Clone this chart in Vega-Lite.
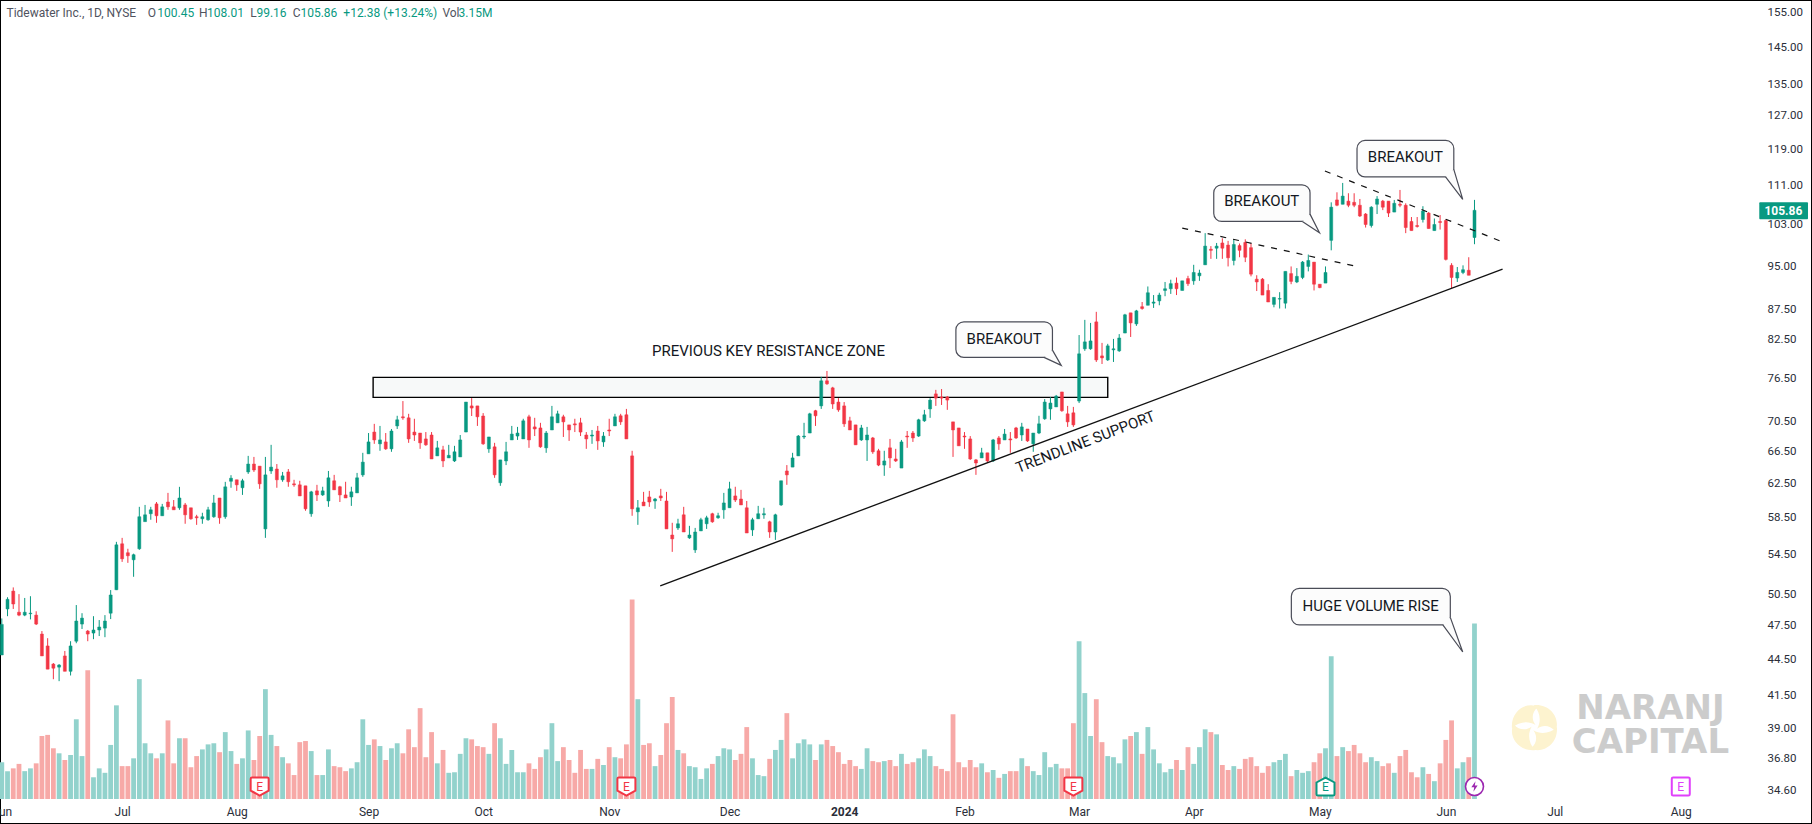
{"$schema":"https://vega.github.io/schema/vega-lite/v6.json","width":1812,"height":824,"padding":0,"autosize":{"type":"none"},"background":"#ffffff","config":{"view":{"stroke":"#000000","strokeWidth":2},"text":{"font":"Roboto"}},
"datasets":{"bars":[
{"bar":0,"open":44.92,"high":48.19,"low":44.9,"close":47.64,"volume":0.66},
{"bar":1,"open":49.08,"high":50.2,"low":48.4,"close":50.0,"volume":0.5},
{"bar":2,"open":50.8,"high":51.16,"low":49.08,"close":49.55,"volume":0.55},
{"bar":3,"open":48.77,"high":50.5,"low":48.4,"close":48.5,"volume":0.63},
{"bar":4,"open":48.5,"high":50.13,"low":48.4,"close":48.77,"volume":0.5},
{"bar":5,"open":48.63,"high":50.3,"low":48.1,"close":48.68,"volume":0.55},
{"bar":6,"open":48.5,"high":48.86,"low":47.58,"close":47.67,"volume":0.64},
{"bar":7,"open":46.76,"high":47.03,"low":44.83,"close":44.83,"volume":1.13},
{"bar":8,"open":45.7,"high":46.39,"low":43.7,"close":43.7,"volume":1.15},
{"bar":9,"open":44.13,"high":44.22,"low":42.86,"close":43.78,"volume":0.91},
{"bar":10,"open":43.87,"high":44.13,"low":42.7,"close":44.05,"volume":0.82},
{"bar":11,"open":44.83,"high":45.26,"low":43.52,"close":43.52,"volume":0.7},
{"bar":12,"open":43.52,"high":46.12,"low":43.17,"close":45.7,"volume":0.79},
{"bar":13,"open":46.12,"high":49.45,"low":45.94,"close":47.95,"volume":1.43},
{"bar":14,"open":47.67,"high":48.68,"low":47.22,"close":48.22,"volume":0.77},
{"bar":15,"open":47.03,"high":47.13,"low":46.12,"close":46.76,"volume":2.31},
{"bar":16,"open":46.85,"high":48.4,"low":46.3,"close":47.13,"volume":0.39},
{"bar":17,"open":47.13,"high":48.04,"low":46.58,"close":47.4,"volume":0.55},
{"bar":18,"open":47.3,"high":48.5,"low":46.48,"close":47.95,"volume":0.47},
{"bar":19,"open":48.68,"high":50.9,"low":48.13,"close":50.42,"volume":0.97},
{"bar":20,"open":50.93,"high":55.86,"low":50.9,"close":55.54,"volume":1.68},
{"bar":21,"open":55.65,"high":56.29,"low":53.74,"close":54.06,"volume":0.59},
{"bar":22,"open":54.7,"high":55.12,"low":53.64,"close":54.38,"volume":0.59},
{"bar":23,"open":53.96,"high":54.6,"low":52.22,"close":54.49,"volume":0.73},
{"bar":24,"open":55.12,"high":59.76,"low":55.0,"close":58.63,"volume":2.15},
{"bar":25,"open":58.08,"high":59.98,"low":58.08,"close":58.85,"volume":1.0},
{"bar":26,"open":58.97,"high":59.76,"low":58.29,"close":59.42,"volume":0.82},
{"bar":27,"open":60.1,"high":60.32,"low":57.95,"close":58.74,"volume":0.73},
{"bar":28,"open":58.74,"high":60.1,"low":58.74,"close":59.76,"volume":0.82},
{"bar":29,"open":60.32,"high":61.39,"low":59.42,"close":59.76,"volume":1.41},
{"bar":30,"open":59.76,"high":60.55,"low":59.42,"close":59.42,"volume":0.64},
{"bar":31,"open":59.65,"high":62.11,"low":59.42,"close":60.79,"volume":1.09},
{"bar":32,"open":59.98,"high":60.21,"low":57.84,"close":58.85,"volume":1.09},
{"bar":33,"open":59.65,"high":59.65,"low":58.29,"close":58.4,"volume":0.57},
{"bar":34,"open":58.63,"high":58.85,"low":57.72,"close":58.51,"volume":0.77},
{"bar":35,"open":58.4,"high":59.08,"low":57.84,"close":58.63,"volume":0.89},
{"bar":36,"open":58.29,"high":59.76,"low":58.18,"close":59.42,"volume":0.98},
{"bar":37,"open":58.63,"high":61.15,"low":58.51,"close":60.21,"volume":1.0},
{"bar":38,"open":60.79,"high":60.79,"low":57.84,"close":58.51,"volume":0.84},
{"bar":39,"open":58.63,"high":62.71,"low":58.4,"close":62.11,"volume":1.2},
{"bar":40,"open":62.78,"high":63.52,"low":62.0,"close":63.15,"volume":0.86},
{"bar":41,"open":62.96,"high":62.96,"low":61.63,"close":62.35,"volume":0.63},
{"bar":42,"open":62.0,"high":63.08,"low":61.15,"close":62.84,"volume":0.73},
{"bar":43,"open":63.92,"high":65.93,"low":63.68,"close":64.9,"volume":1.23},
{"bar":44,"open":64.9,"high":65.8,"low":63.92,"close":64.16,"volume":0.7},
{"bar":45,"open":64.64,"high":64.64,"low":61.87,"close":62.47,"volume":1.13},
{"bar":46,"open":57.27,"high":65.8,"low":56.29,"close":63.56,"volume":1.97},
{"bar":47,"open":64.04,"high":67.35,"low":63.68,"close":64.52,"volume":1.15},
{"bar":48,"open":64.28,"high":64.9,"low":62.0,"close":62.96,"volume":0.95},
{"bar":49,"open":62.96,"high":63.92,"low":62.72,"close":63.44,"volume":0.75},
{"bar":50,"open":63.92,"high":64.28,"low":62.12,"close":62.72,"volume":0.64},
{"bar":51,"open":62.47,"high":62.96,"low":62.12,"close":62.35,"volume":0.43},
{"bar":52,"open":62.35,"high":62.84,"low":61.03,"close":61.03,"volume":1.02},
{"bar":53,"open":62.23,"high":62.23,"low":59.31,"close":59.53,"volume":1.04},
{"bar":54,"open":58.97,"high":61.63,"low":58.63,"close":61.51,"volume":0.86},
{"bar":55,"open":61.63,"high":62.35,"low":60.44,"close":61.15,"volume":0.43},
{"bar":56,"open":61.15,"high":62.12,"low":61.03,"close":61.63,"volume":0.43},
{"bar":57,"open":60.44,"high":64.04,"low":59.76,"close":63.2,"volume":0.89},
{"bar":58,"open":62.84,"high":63.56,"low":61.75,"close":61.75,"volume":0.59},
{"bar":59,"open":62.12,"high":62.23,"low":60.32,"close":61.15,"volume":0.57},
{"bar":60,"open":61.15,"high":62.72,"low":60.79,"close":60.79,"volume":0.5},
{"bar":61,"open":60.91,"high":62.12,"low":59.87,"close":61.51,"volume":0.55},
{"bar":62,"open":61.39,"high":63.8,"low":61.39,"close":63.2,"volume":0.66},
{"bar":63,"open":63.56,"high":66.32,"low":63.32,"close":65.14,"volume":1.43},
{"bar":64,"open":66.19,"high":68.9,"low":66.19,"close":67.73,"volume":0.97},
{"bar":65,"open":69.03,"high":70.13,"low":67.48,"close":67.99,"volume":1.07},
{"bar":66,"open":67.48,"high":69.85,"low":66.58,"close":67.99,"volume":0.95},
{"bar":67,"open":67.73,"high":68.9,"low":66.7,"close":66.83,"volume":0.7},
{"bar":68,"open":66.83,"high":69.44,"low":66.45,"close":69.17,"volume":0.91},
{"bar":69,"open":69.85,"high":71.23,"low":69.44,"close":70.68,"volume":1.0},
{"bar":70,"open":71.09,"high":73.28,"low":70.68,"close":70.95,"volume":0.82},
{"bar":71,"open":70.95,"high":71.5,"low":67.61,"close":68.12,"volume":1.25},
{"bar":72,"open":69.03,"high":70.82,"low":67.86,"close":68.64,"volume":0.93},
{"bar":73,"open":68.9,"high":68.9,"low":66.83,"close":67.61,"volume":1.63},
{"bar":74,"open":68.12,"high":69.03,"low":67.22,"close":67.35,"volume":0.75},
{"bar":75,"open":68.64,"high":69.03,"low":65.54,"close":65.54,"volume":1.2},
{"bar":76,"open":65.93,"high":67.86,"low":65.93,"close":66.96,"volume":0.64},
{"bar":77,"open":66.7,"high":67.22,"low":64.52,"close":65.29,"volume":0.88},
{"bar":78,"open":65.67,"high":67.35,"low":65.67,"close":66.0,"volume":0.47},
{"bar":79,"open":65.29,"high":67.22,"low":65.16,"close":66.45,"volume":0.48},
{"bar":80,"open":65.8,"high":68.64,"low":65.8,"close":67.99,"volume":0.81},
{"bar":81,"open":69.03,"high":73.14,"low":69.03,"close":73.14,"volume":1.09},
{"bar":82,"open":72.6,"high":73.7,"low":71.2,"close":72.3,"volume":1.07},
{"bar":83,"open":72.6,"high":72.6,"low":69.85,"close":71.09,"volume":0.95},
{"bar":84,"open":71.2,"high":71.6,"low":67.35,"close":67.48,"volume":0.93},
{"bar":85,"open":66.83,"high":68.38,"low":66.32,"close":68.38,"volume":0.81},
{"bar":86,"open":67.09,"high":67.61,"low":63.2,"close":63.56,"volume":1.36},
{"bar":87,"open":62.6,"high":65.42,"low":62.23,"close":65.42,"volume":1.09},
{"bar":88,"open":65.29,"high":67.73,"low":64.77,"close":66.45,"volume":0.63},
{"bar":89,"open":67.99,"high":69.85,"low":67.99,"close":68.76,"volume":0.88},
{"bar":90,"open":68.5,"high":69.72,"low":67.99,"close":68.9,"volume":0.48},
{"bar":91,"open":68.12,"high":70.82,"low":68.12,"close":70.54,"volume":0.48},
{"bar":92,"open":71.09,"high":71.37,"low":66.96,"close":67.99,"volume":0.64},
{"bar":93,"open":69.72,"high":70.95,"low":68.5,"close":69.44,"volume":0.54},
{"bar":94,"open":69.58,"high":70.27,"low":66.96,"close":67.09,"volume":0.75},
{"bar":95,"open":66.96,"high":69.17,"low":66.32,"close":68.9,"volume":0.89},
{"bar":96,"open":69.31,"high":72.6,"low":69.31,"close":71.09,"volume":1.36},
{"bar":97,"open":70.27,"high":71.93,"low":70.27,"close":71.5,"volume":0.68},
{"bar":98,"open":71.09,"high":71.37,"low":68.38,"close":70.4,"volume":0.93},
{"bar":99,"open":69.99,"high":69.99,"low":67.86,"close":69.31,"volume":0.7},
{"bar":100,"open":70.13,"high":70.82,"low":69.03,"close":69.99,"volume":0.47},
{"bar":101,"open":70.27,"high":70.95,"low":68.5,"close":69.03,"volume":0.88},
{"bar":102,"open":68.64,"high":69.03,"low":66.83,"close":68.12,"volume":0.54},
{"bar":103,"open":68.5,"high":69.31,"low":67.48,"close":68.64,"volume":0.54},
{"bar":104,"open":69.17,"high":69.85,"low":66.7,"close":67.86,"volume":0.72},
{"bar":105,"open":67.73,"high":69.03,"low":67.09,"close":68.5,"volume":0.61},
{"bar":106,"open":69.31,"high":70.82,"low":68.5,"close":69.17,"volume":0.93},
{"bar":107,"open":69.85,"high":71.5,"low":69.85,"close":71.09,"volume":0.75},
{"bar":108,"open":71.23,"high":71.5,"low":69.99,"close":70.4,"volume":0.73},
{"bar":109,"open":71.37,"high":72.18,"low":68.12,"close":68.12,"volume":0.98},
{"bar":110,"open":65.93,"high":66.58,"low":58.74,"close":59.53,"volume":3.58},
{"bar":111,"open":59.19,"high":60.55,"low":57.72,"close":59.65,"volume":1.79},
{"bar":112,"open":60.32,"high":61.51,"low":59.87,"close":59.87,"volume":0.97},
{"bar":113,"open":60.91,"high":61.63,"low":59.76,"close":60.32,"volume":1.0},
{"bar":114,"open":60.44,"high":60.79,"low":59.53,"close":60.67,"volume":0.59},
{"bar":115,"open":61.03,"high":61.87,"low":60.44,"close":60.79,"volume":0.79},
{"bar":116,"open":60.44,"high":61.51,"low":57.27,"close":57.27,"volume":1.36},
{"bar":117,"open":56.6,"high":57.95,"low":54.79,"close":56.18,"volume":1.83},
{"bar":118,"open":57.38,"high":58.4,"low":57.16,"close":57.84,"volume":0.88},
{"bar":119,"open":58.85,"high":59.76,"low":56.93,"close":56.93,"volume":0.82},
{"bar":120,"open":56.29,"high":57.61,"low":56.18,"close":56.6,"volume":0.59},
{"bar":121,"open":55.0,"high":57.38,"low":54.68,"close":56.93,"volume":0.57},
{"bar":122,"open":57.05,"high":58.51,"low":57.05,"close":58.29,"volume":0.36},
{"bar":123,"open":57.84,"high":58.74,"low":57.27,"close":58.51,"volume":0.55},
{"bar":124,"open":58.97,"high":59.08,"low":57.95,"close":58.06,"volume":0.63},
{"bar":125,"open":58.51,"high":59.08,"low":58.4,"close":58.74,"volume":0.77},
{"bar":126,"open":59.42,"high":61.39,"low":58.4,"close":60.21,"volume":0.91},
{"bar":127,"open":59.65,"high":62.72,"low":59.65,"close":61.87,"volume":0.89},
{"bar":128,"open":61.03,"high":62.12,"low":60.32,"close":60.55,"volume":0.7},
{"bar":129,"open":60.67,"high":61.75,"low":59.98,"close":59.98,"volume":0.81},
{"bar":130,"open":59.65,"high":60.44,"low":56.82,"close":56.82,"volume":1.29},
{"bar":131,"open":57.16,"high":58.51,"low":56.5,"close":58.29,"volume":0.73},
{"bar":132,"open":58.4,"high":59.87,"low":58.4,"close":58.97,"volume":0.43},
{"bar":133,"open":58.85,"high":59.65,"low":58.4,"close":58.97,"volume":0.41},
{"bar":134,"open":58.06,"high":58.18,"low":56.29,"close":56.93,"volume":0.72},
{"bar":135,"open":56.93,"high":58.97,"low":56.07,"close":58.85,"volume":0.88},
{"bar":136,"open":59.98,"high":62.84,"low":59.87,"close":62.84,"volume":1.06},
{"bar":137,"open":64.04,"high":64.77,"low":62.35,"close":63.56,"volume":1.54},
{"bar":138,"open":64.52,"high":66.32,"low":64.52,"close":65.67,"volume":0.73},
{"bar":139,"open":65.93,"high":68.64,"low":65.93,"close":68.5,"volume":1.0},
{"bar":140,"open":68.38,"high":70.27,"low":68.12,"close":68.5,"volume":1.07},
{"bar":141,"open":68.9,"high":71.64,"low":68.9,"close":71.5,"volume":0.98},
{"bar":142,"open":71.93,"high":72.05,"low":69.85,"close":71.23,"volume":0.7},
{"bar":143,"open":72.6,"high":76.78,"low":72.18,"close":76.2,"volume":0.98},
{"bar":144,"open":76.2,"high":77.66,"low":75.61,"close":75.76,"volume":1.06},
{"bar":145,"open":75.17,"high":75.32,"low":72.18,"close":72.87,"volume":0.95},
{"bar":146,"open":73.14,"high":73.7,"low":71.78,"close":72.05,"volume":0.84},
{"bar":147,"open":72.6,"high":73.14,"low":69.72,"close":70.13,"volume":0.63},
{"bar":148,"open":70.54,"high":71.09,"low":69.31,"close":69.31,"volume":0.7},
{"bar":149,"open":69.99,"high":69.99,"low":67.35,"close":67.35,"volume":0.59},
{"bar":150,"open":67.99,"high":69.99,"low":67.86,"close":69.58,"volume":0.54},
{"bar":151,"open":67.99,"high":69.72,"low":65.29,"close":68.64,"volume":0.91},
{"bar":152,"open":68.25,"high":68.38,"low":66.19,"close":66.45,"volume":0.68},
{"bar":153,"open":66.58,"high":66.83,"low":64.64,"close":64.77,"volume":0.66},
{"bar":154,"open":64.77,"high":66.58,"low":63.44,"close":65.29,"volume":0.68},
{"bar":155,"open":66.96,"high":68.12,"low":64.4,"close":65.67,"volume":0.7},
{"bar":156,"open":65.54,"high":66.83,"low":65.16,"close":65.29,"volume":0.59},
{"bar":157,"open":64.4,"high":67.99,"low":64.4,"close":67.73,"volume":0.81},
{"bar":158,"open":68.5,"high":69.17,"low":66.96,"close":68.38,"volume":0.63},
{"bar":159,"open":68.9,"high":69.17,"low":67.73,"close":68.25,"volume":0.66},
{"bar":160,"open":68.5,"high":70.82,"low":68.38,"close":70.68,"volume":0.73},
{"bar":161,"open":70.54,"high":72.05,"low":70.4,"close":71.37,"volume":0.89},
{"bar":162,"open":72.18,"high":73.7,"low":70.95,"close":73.42,"volume":0.77},
{"bar":163,"open":74.3,"high":74.88,"low":72.6,"close":73.7,"volume":0.59},
{"bar":164,"open":73.86,"high":75.0,"low":72.73,"close":73.7,"volume":0.54},
{"bar":165,"open":73.86,"high":74.0,"low":72.05,"close":73.42,"volume":0.5},
{"bar":166,"open":70.4,"high":70.4,"low":65.8,"close":69.31,"volume":1.52},
{"bar":167,"open":69.58,"high":69.58,"low":67.22,"close":67.22,"volume":0.66},
{"bar":168,"open":68.5,"high":69.03,"low":66.83,"close":68.38,"volume":0.57},
{"bar":169,"open":68.12,"high":68.5,"low":65.42,"close":65.54,"volume":0.7},
{"bar":170,"open":65.42,"high":65.54,"low":63.56,"close":65.03,"volume":0.57},
{"bar":171,"open":65.67,"high":66.96,"low":65.67,"close":66.32,"volume":0.64},
{"bar":172,"open":66.32,"high":66.32,"low":65.03,"close":65.29,"volume":0.48},
{"bar":173,"open":65.29,"high":68.12,"low":65.16,"close":67.99,"volume":0.52},
{"bar":174,"open":68.25,"high":68.5,"low":66.7,"close":67.48,"volume":0.38},
{"bar":175,"open":67.99,"high":69.44,"low":67.99,"close":68.76,"volume":0.45},
{"bar":176,"open":68.12,"high":69.03,"low":66.32,"close":67.99,"volume":0.5},
{"bar":177,"open":69.58,"high":69.72,"low":68.12,"close":68.25,"volume":0.5},
{"bar":178,"open":68.64,"high":70.27,"low":67.86,"close":69.72,"volume":0.73},
{"bar":179,"open":69.44,"high":69.44,"low":67.73,"close":67.86,"volume":0.59},
{"bar":180,"open":67.48,"high":68.9,"low":66.45,"close":68.9,"volume":0.5},
{"bar":181,"open":68.9,"high":71.23,"low":68.76,"close":70.13,"volume":0.43},
{"bar":182,"open":70.82,"high":73.56,"low":70.68,"close":73.14,"volume":0.84},
{"bar":183,"open":72.18,"high":73.84,"low":70.68,"close":73.0,"volume":0.57},
{"bar":184,"open":72.46,"high":74.15,"low":72.46,"close":73.98,"volume":0.63},
{"bar":185,"open":74.58,"high":74.58,"low":71.78,"close":71.93,"volume":0.55},
{"bar":186,"open":71.5,"high":72.6,"low":69.72,"close":70.4,"volume":0.55},
{"bar":187,"open":71.64,"high":72.46,"low":69.72,"close":69.99,"volume":1.36},
{"bar":188,"open":73.28,"high":83.23,"low":73.0,"close":80.27,"volume":2.83},
{"bar":189,"open":81.05,"high":85.7,"low":80.73,"close":82.14,"volume":1.9},
{"bar":190,"open":81.05,"high":85.2,"low":80.89,"close":82.29,"volume":1.13},
{"bar":191,"open":85.37,"high":87.04,"low":79.02,"close":79.33,"volume":1.79},
{"bar":192,"open":79.95,"high":81.98,"low":78.71,"close":79.64,"volume":1.02},
{"bar":193,"open":79.33,"high":81.83,"low":79.17,"close":81.51,"volume":0.77},
{"bar":194,"open":80.89,"high":82.61,"low":79.02,"close":81.05,"volume":0.75},
{"bar":195,"open":80.73,"high":83.38,"low":80.57,"close":82.76,"volume":0.64},
{"bar":196,"open":83.55,"high":86.7,"low":83.55,"close":86.54,"volume":1.07},
{"bar":197,"open":86.87,"high":86.87,"low":82.92,"close":85.2,"volume":1.13},
{"bar":198,"open":85.04,"high":87.37,"low":84.71,"close":87.2,"volume":1.2},
{"bar":199,"open":87.9,"high":88.7,"low":87.4,"close":87.6,"volume":0.81},
{"bar":200,"open":88.15,"high":91.4,"low":88.15,"close":90.3,"volume":1.29},
{"bar":201,"open":88.5,"high":89.9,"low":87.7,"close":88.7,"volume":0.89},
{"bar":202,"open":88.9,"high":90.3,"low":88.15,"close":89.9,"volume":0.64},
{"bar":203,"open":90.7,"high":92.2,"low":89.7,"close":91.0,"volume":0.48},
{"bar":204,"open":91.0,"high":92.6,"low":90.1,"close":91.9,"volume":0.54},
{"bar":205,"open":92.0,"high":93.0,"low":89.9,"close":91.0,"volume":0.7},
{"bar":206,"open":90.7,"high":92.4,"low":90.7,"close":92.4,"volume":0.52},
{"bar":207,"open":92.8,"high":93.3,"low":91.5,"close":91.9,"volume":0.93},
{"bar":208,"open":92.4,"high":95.3,"low":91.7,"close":93.9,"volume":0.63},
{"bar":209,"open":93.3,"high":94.4,"low":92.4,"close":93.8,"volume":0.93},
{"bar":210,"open":95.3,"high":101.3,"low":95.3,"close":98.8,"volume":1.25},
{"bar":211,"open":98.2,"high":98.8,"low":96.4,"close":98.0,"volume":1.2},
{"bar":212,"open":98.4,"high":99.4,"low":96.4,"close":98.8,"volume":1.16},
{"bar":213,"open":99.4,"high":100.3,"low":96.4,"close":98.4,"volume":0.61},
{"bar":214,"open":99.0,"high":99.8,"low":95.0,"close":96.6,"volume":0.52},
{"bar":215,"open":96.1,"high":100.1,"low":95.2,"close":99.1,"volume":0.59},
{"bar":216,"open":98.9,"high":99.3,"low":96.7,"close":98.0,"volume":0.54},
{"bar":217,"open":99.5,"high":100.1,"low":95.8,"close":96.7,"volume":0.72},
{"bar":218,"open":98.5,"high":99.3,"low":93.2,"close":93.6,"volume":0.75},
{"bar":219,"open":92.7,"high":93.4,"low":90.6,"close":92.2,"volume":0.59},
{"bar":220,"open":92.7,"high":92.9,"low":89.9,"close":89.9,"volume":0.47},
{"bar":221,"open":90.7,"high":91.8,"low":88.7,"close":88.7,"volume":0.59},
{"bar":222,"open":88.3,"high":89.5,"low":87.8,"close":89.5,"volume":0.66},
{"bar":223,"open":89.2,"high":90.4,"low":87.6,"close":89.3,"volume":0.7},
{"bar":224,"open":88.5,"high":94.1,"low":87.6,"close":94.1,"volume":0.81},
{"bar":225,"open":93.7,"high":95.0,"low":91.8,"close":92.3,"volume":0.41},
{"bar":226,"open":92.2,"high":94.7,"low":92.0,"close":93.2,"volume":0.52},
{"bar":227,"open":93.0,"high":96.0,"low":92.7,"close":95.8,"volume":0.47},
{"bar":228,"open":95.0,"high":97.2,"low":94.1,"close":96.1,"volume":0.5},
{"bar":229,"open":95.8,"high":95.8,"low":90.7,"close":91.8,"volume":0.66},
{"bar":230,"open":91.8,"high":91.8,"low":91.1,"close":91.2,"volume":0.82},
{"bar":231,"open":92.0,"high":95.0,"low":92.0,"close":93.9,"volume":0.91},
{"bar":232,"open":99.9,"high":107.5,"low":98.0,"close":106.5,"volume":2.56},
{"bar":233,"open":108.0,"high":109.6,"low":106.7,"close":106.9,"volume":0.77},
{"bar":234,"open":107.1,"high":111.6,"low":107.1,"close":108.8,"volume":0.93},
{"bar":235,"open":107.75,"high":109.4,"low":106.5,"close":106.9,"volume":0.86},
{"bar":236,"open":107.5,"high":109.4,"low":106.5,"close":106.9,"volume":0.97},
{"bar":237,"open":106.9,"high":108.2,"low":104.5,"close":104.7,"volume":0.82},
{"bar":238,"open":105.1,"high":105.3,"low":102.4,"close":103.0,"volume":0.66},
{"bar":239,"open":102.8,"high":106.7,"low":102.4,"close":106.5,"volume":0.75},
{"bar":240,"open":107.1,"high":108.8,"low":105.1,"close":108.2,"volume":0.68},
{"bar":241,"open":107.75,"high":108.0,"low":105.9,"close":106.5,"volume":0.59},
{"bar":242,"open":107.75,"high":107.75,"low":104.5,"close":105.3,"volume":0.64},
{"bar":243,"open":105.5,"high":108.0,"low":105.5,"close":107.3,"volume":0.47},
{"bar":244,"open":107.1,"high":110.1,"low":106.5,"close":106.9,"volume":0.77},
{"bar":245,"open":106.9,"high":107.3,"low":101.3,"close":102.4,"volume":0.88},
{"bar":246,"open":103.6,"high":104.5,"low":101.8,"close":101.8,"volume":0.48},
{"bar":247,"open":102.8,"high":104.5,"low":102.4,"close":102.6,"volume":0.39},
{"bar":248,"open":104.0,"high":106.7,"low":103.4,"close":105.7,"volume":0.57},
{"bar":249,"open":105.3,"high":105.5,"low":102.2,"close":102.2,"volume":0.45},
{"bar":250,"open":101.8,"high":104.2,"low":101.8,"close":103.0,"volume":0.32},
{"bar":251,"open":103.6,"high":104.9,"low":102.0,"close":103.4,"volume":0.64},
{"bar":252,"open":103.8,"high":104.0,"low":96.1,"close":96.3,"volume":1.06},
{"bar":253,"open":95.2,"high":95.6,"low":91.1,"close":93.0,"volume":1.41},
{"bar":254,"open":92.9,"high":94.9,"low":92.2,"close":93.9,"volume":0.55},
{"bar":255,"open":93.9,"high":95.2,"low":93.6,"close":94.4,"volume":0.66},
{"bar":256,"open":94.3,"high":96.7,"low":93.4,"close":93.4,"volume":0.75},
{"bar":257,"open":100.45,"high":108.01,"low":99.16,"close":105.86,"volume":3.15}
],
"header":[
{"bar":0.82,"price":154.9,"label":"Tidewater Inc., 1D, NYSE","part":"name"},
{"bar":25.46,"price":154.9,"label":"O","part":"name"},
{"bar":27.14,"price":154.9,"label":"100.45","part":"value"},
{"bar":34.42,"price":154.9,"label":"H","part":"name"},
{"bar":35.81,"price":154.9,"label":"108.01","part":"value"},
{"bar":43.37,"price":154.9,"label":"L","part":"name"},
{"bar":44.43,"price":154.9,"label":"99.16","part":"value"},
{"bar":50.79,"price":154.9,"label":"C","part":"name"},
{"bar":52.11,"price":154.9,"label":"105.86","part":"value"},
{"bar":59.6,"price":154.9,"label":"+12.38 (+13.24%)","part":"value"},
{"bar":76.89,"price":154.9,"label":"Vol","part":"name"},
{"bar":79.7,"price":154.9,"label":"3.15M","part":"value"}
],
"callouts":[
{"name":"breakout1","bar":166.5,"bar2":183.35,"price":85.38,"price2":79.72,"tbar":174.92,"tprice":82.64,"label":"BREAKOUT"},
{"name":"breakout2","bar":211.5,"bar2":228.3,"price":111.19,"price2":103.61,"tbar":219.88,"tprice":107.69,"label":"BREAKOUT"},
{"name":"breakout3","bar":236.5,"bar2":253.39,"price":121.12,"price2":112.91,"tbar":244.94,"tprice":117.22,"label":"BREAKOUT"},
{"name":"volume","bar":225.04,"bar2":252.78,"price":51.07,"price2":47.59,"tbar":238.88,"tprice":49.39,"label":"HUGE VOLUME RISE"}
],
"tails":[
{"name":"breakout1","seq":0,"bar":181.88,"price":79.72},{"name":"breakout1","seq":1,"bar":184.88,"price":78.5},{"name":"breakout1","seq":2,"bar":183.35,"price":80.85},
{"name":"breakout2","seq":0,"bar":226.96,"price":103.61},{"name":"breakout2","seq":1,"bar":229.95,"price":101.36},{"name":"breakout2","seq":2,"bar":228.3,"price":105.08},
{"name":"breakout3","seq":0,"bar":251.95,"price":112.91},{"name":"breakout3","seq":1,"bar":254.95,"price":108.1},{"name":"breakout3","seq":2,"bar":253.39,"price":114.54},
{"name":"volume","seq":0,"bar":251.48,"price":47.59},{"name":"volume","seq":1,"bar":254.95,"price":45.17},{"name":"volume","seq":2,"bar":252.78,"price":48.29}
],
"zone":[{"bar":64.8,"bar2":193.0,"price":73.8,"price2":76.7}],
"support":[{"bar":114.9,"bar2":261.9,"price":51.32,"price2":94.5}],
"resistance":[{"bar":206,"bar2":236,"price":102.3,"price2":95.1},{"bar":230.9,"bar2":261.9,"price":114.2,"price2":99.6}],
"notes":[
{"bar":133.8,"price":80.74,"label":"PREVIOUS KEY RESISTANCE ZONE","tilt":0},
{"bar":189.1,"price":67.75,"label":"TRENDLINE SUPPORT","tilt":339}
],
"lastprice":[{"bar":306.7,"bar2":315.2,"price":104.07,"price2":107.5,"tbar":310.9,"tprice":105.8,"label":"105.86"}],
"events":[
{"bar":45,"price":34.85,"kind":"earnings_miss"},
{"bar":109,"price":34.85,"kind":"earnings_miss"},
{"bar":187,"price":34.85,"kind":"earnings_miss"},
{"bar":231,"price":34.85,"kind":"earnings_beat"},
{"bar":293,"price":34.85,"kind":"earnings_next"}
],
"flash":[{"bar":257,"price":34.85}],
"brand":[
{"bar":287.7,"price":40.47,"label":"NARANJ"},
{"bar":287.7,"price":37.91,"label":"CAPITAL"}
],
"brandmark":[{"bar":267.46,"price":39.04}]
},
"resolve":{"scale":{"y":"independent"}},
"encoding":{"x":{"field":"bar","type":"quantitative","title":null,"scale":{"domain":[-0.314,315.9],"nice":false,"zero":false,"padding":0},"axis":{"orient":"bottom","offset":-25,"title":null,"grid":false,"domain":false,"ticks":false,"labelPadding":7,"labelFont":"Roboto","labelFontSize":12,"labelColor":"#2a2e39","labelOverlap":false,"labelBound":false,"labelFlush":false,"values":[0,21,41,64,84,106,127,147,168,188,208,230,252,271,293],"labelExpr":"{'0':'Jun','21':'Jul','41':'Aug','64':'Sep','84':'Oct','106':'Nov','127':'Dec','147':'2024','168':'Feb','188':'Mar','208':'Apr','230':'May','252':'Jun','271':'Jul','293':'Aug'}[datum.value]","labelFontWeight":{"condition":{"test":"datum.value == 147","value":"bold"},"value":"normal"}}}},
"layer":[
{"data":{"name":"bars"},"mark":{"type":"bar","orient":"vertical","width":4.8},"encoding":{"y":{"field":"volume","type":"quantitative","title":null,"axis":null,"scale":{"domain":[-0.448,14.33],"nice":false,"zero":false}},"y2":{"datum":0},"fill":{"condition":{"test":"datum.close >= datum.open","value":"#92D2CC"},"value":"#F7A9A7"}}},
{"layer":[
{"data":{"name":"zone"},"mark":{"type":"rect","fill":"#F7F9F9","stroke":"#000000","strokeWidth":1.4},"encoding":{"x2":{"field":"bar2"},"y":{"field":"price","type":"quantitative","title":null,"scale":{"type":"log","domain":[32.42,158.8],"nice":false},"axis":{"orient":"right","offset":-45,"title":null,"grid":false,"domain":false,"ticks":false,"labelPadding":0,"labelFont":"Roboto","labelFontSize":11.5,"labelColor":"#2a2e39","labelOverlap":false,"labelBound":false,"labelFlush":false,"format":".2f","values":[34.6,36.8,39,41.5,44.5,47.5,50.5,54.5,58.5,62.5,66.5,70.5,76.5,82.5,87.5,95,103,111,119,127,135,145,155]}},"y2":{"field":"price2"}}},
{"data":{"name":"bars"},"mark":{"type":"rule","strokeWidth":1},"encoding":{"y":{"field":"low","type":"quantitative","title":null,"scale":{"type":"log","domain":[32.42,158.8],"nice":false}},"y2":{"field":"high"},"stroke":{"condition":{"test":"datum.close >= datum.open","value":"#089981"},"value":"#F23645"}}},
{"data":{"name":"bars"},"mark":{"type":"bar","orient":"vertical","width":3,"strokeWidth":0.5},"encoding":{"y":{"field":"open","type":"quantitative","title":null,"scale":{"type":"log","domain":[32.42,158.8],"nice":false}},"y2":{"field":"close"},"fill":{"condition":{"test":"datum.close >= datum.open","value":"#089981"},"value":"#F23645"},"stroke":{"condition":{"test":"datum.close >= datum.open","value":"#089981"},"value":"#F23645"}}},
{"data":{"name":"support"},"mark":{"type":"rule","stroke":"#111111","strokeWidth":1.3},"encoding":{"x2":{"field":"bar2"},"y":{"field":"price","type":"quantitative","title":null,"scale":{"type":"log","domain":[32.42,158.8],"nice":false}},"y2":{"field":"price2"}}},
{"data":{"name":"resistance"},"mark":{"type":"rule","stroke":"#111111","strokeWidth":1.2,"strokeDash":[6,7]},"encoding":{"x2":{"field":"bar2"},"y":{"field":"price","type":"quantitative","title":null,"scale":{"type":"log","domain":[32.42,158.8],"nice":false}},"y2":{"field":"price2"}}},
{"data":{"name":"callouts"},"mark":{"type":"rect","fill":"#FCFCFC","stroke":"#4A4C57","strokeWidth":1.2,"cornerRadius":8},"encoding":{"x2":{"field":"bar2"},"y":{"field":"price","type":"quantitative","title":null,"scale":{"type":"log","domain":[32.42,158.8],"nice":false}},"y2":{"field":"price2"}}},
{"data":{"name":"tails"},"mark":{"type":"line","fill":"#FCFCFC","stroke":"#4A4C57","strokeWidth":1.2},"encoding":{"y":{"field":"price","type":"quantitative","title":null,"scale":{"type":"log","domain":[32.42,158.8],"nice":false}},"detail":{"field":"name"},"order":{"field":"seq"}}},
{"data":{"name":"callouts"},"mark":{"type":"text","fontSize":15,"color":"#131722"},"encoding":{"x":{"field":"tbar","type":"quantitative"},"y":{"field":"tprice","type":"quantitative","title":null,"scale":{"type":"log","domain":[32.42,158.8],"nice":false}},"text":{"field":"label"}}},
{"data":{"name":"notes"},"transform":[{"filter":"datum.tilt == 0"}],"mark":{"type":"text","fontSize":15,"color":"#131722"},"encoding":{"y":{"field":"price","type":"quantitative","title":null,"scale":{"type":"log","domain":[32.42,158.8],"nice":false}},"text":{"field":"label"}}},
{"data":{"name":"notes"},"transform":[{"filter":"datum.tilt != 0"}],"mark":{"type":"text","fontSize":15,"color":"#131722","angle":339},"encoding":{"y":{"field":"price","type":"quantitative","title":null,"scale":{"type":"log","domain":[32.42,158.8],"nice":false}},"text":{"field":"label"}}},
{"data":{"name":"header"},"mark":{"type":"text","align":"left","fontSize":12},"encoding":{"y":{"field":"price","type":"quantitative","title":null,"scale":{"type":"log","domain":[32.42,158.8],"nice":false}},"text":{"field":"label"},"fill":{"condition":{"test":"datum.part == 'value'","value":"#089981"},"value":"#50535E"}}},
{"data":{"name":"lastprice"},"mark":{"type":"rect","fill":"#089981","cornerRadius":1},"encoding":{"x2":{"field":"bar2"},"y":{"field":"price","type":"quantitative","title":null,"scale":{"type":"log","domain":[32.42,158.8],"nice":false}},"y2":{"field":"price2"}}},
{"data":{"name":"lastprice"},"mark":{"type":"text","fontSize":12,"fontWeight":"bold","color":"#ffffff"},"encoding":{"x":{"field":"tbar","type":"quantitative"},"y":{"field":"tprice","type":"quantitative","title":null,"scale":{"type":"log","domain":[32.42,158.8],"nice":false}},"text":{"field":"label"}}},
{"data":{"name":"brandmark"},"mark":{"type":"point","filled":true,"fill":"#FDF3CF","size":2025,"opacity":1,"strokeWidth":0,"shape":"M-1,.02 C-1.05,-.6 -.6,-1 -.15,-1 C-.02,-1 .1,-.97 .14,-.9 C-.12,-.7 -.14,-.35 .05,-.12 C-.3,-.32 -.7,-.25 -1,.02 Z M-.02,-1 C.6,-1.05 1,-.6 1,-.15 C1,-.02 .97,.1 .9,.14 C.7,-.12 .35,-.14 .12,.05 C.32,-.3 .25,-.7 -.02,-1 Z M1,-.02 C1.05,.6 .6,1 .15,1 C.02,1 -.1,.97 -.14,.9 C.12,.7 .14,.35 -.05,.12 C.3,.32 .7,.25 1,-.02 Z M.02,1 C-.6,1.05 -1,.6 -1,.15 C-1,.02 -.97,-.1 -.9,-.14 C-.7,.12 -.35,.14 -.12,-.05 C-.32,.3 -.25,.7 .02,1 Z"},"encoding":{"y":{"field":"price","type":"quantitative","title":null,"scale":{"type":"log","domain":[32.42,158.8],"nice":false}}}},
{"data":{"name":"brand"},"mark":{"type":"text","font":"DejaVu Sans","fontSize":34,"fontWeight":"bold","color":"#CCCCCC"},"encoding":{"y":{"field":"price","type":"quantitative","title":null,"scale":{"type":"log","domain":[32.42,158.8],"nice":false}},"text":{"field":"label"}}},
{"data":{"name":"events"},"mark":{"type":"point","filled":true,"fill":"#ffffff","size":324,"opacity":1,"strokeWidth":2},"encoding":{"y":{"field":"price","type":"quantitative","title":null,"scale":{"type":"log","domain":[32.42,158.8],"nice":false}},"shape":{"field":"kind","legend":null,"scale":{"domain":["earnings_miss","earnings_beat","earnings_next"],"range":["M-.85,-1 L.85,-1 Q1,-1 1,-.85 L1,.45 L0,1 L-1,.45 L-1,-.85 Q-1,-1 -.85,-1 Z","M0,-1 L1,-.45 L1,.85 Q1,1 .85,1 L-.85,1 Q-1,1 -1,.85 L-1,-.45 Z","M-.85,-1 L.85,-1 Q1,-1 1,-.85 L1,.85 Q1,1 .85,1 L-.85,1 Q-1,1 -1,.85 L-1,-.85 Q-1,-1 -.85,-1 Z"]}},"stroke":{"field":"kind","legend":null,"scale":{"domain":["earnings_miss","earnings_beat","earnings_next"],"range":["#F23645","#089981","#E040FB"]}}}},
{"data":{"name":"events"},"mark":{"type":"text","fontSize":12},"encoding":{"y":{"field":"price","type":"quantitative","title":null,"scale":{"type":"log","domain":[32.42,158.8],"nice":false}},"text":{"value":"E"},"fill":{"field":"kind","legend":null,"scale":{"domain":["earnings_miss","earnings_beat","earnings_next"],"range":["#F23645","#089981","#E040FB"]}}}},
{"data":{"name":"flash"},"mark":{"type":"point","filled":true,"fill":"#ffffff","stroke":"#9C27B0","strokeWidth":1.6,"size":324,"opacity":1,"shape":"circle"},"encoding":{"y":{"field":"price","type":"quantitative","title":null,"scale":{"type":"log","domain":[32.42,158.8],"nice":false}}}},
{"data":{"name":"flash"},"mark":{"type":"point","filled":true,"fill":"#9C27B0","strokeWidth":0,"size":110,"opacity":1,"shape":"M.2,-1 L-.6,.15 L-.05,.15 L-.2,1 L.6,-.2 L.05,-.2 Z"},"encoding":{"y":{"field":"price","type":"quantitative","title":null,"scale":{"type":"log","domain":[32.42,158.8],"nice":false}}}}
]}
]}
